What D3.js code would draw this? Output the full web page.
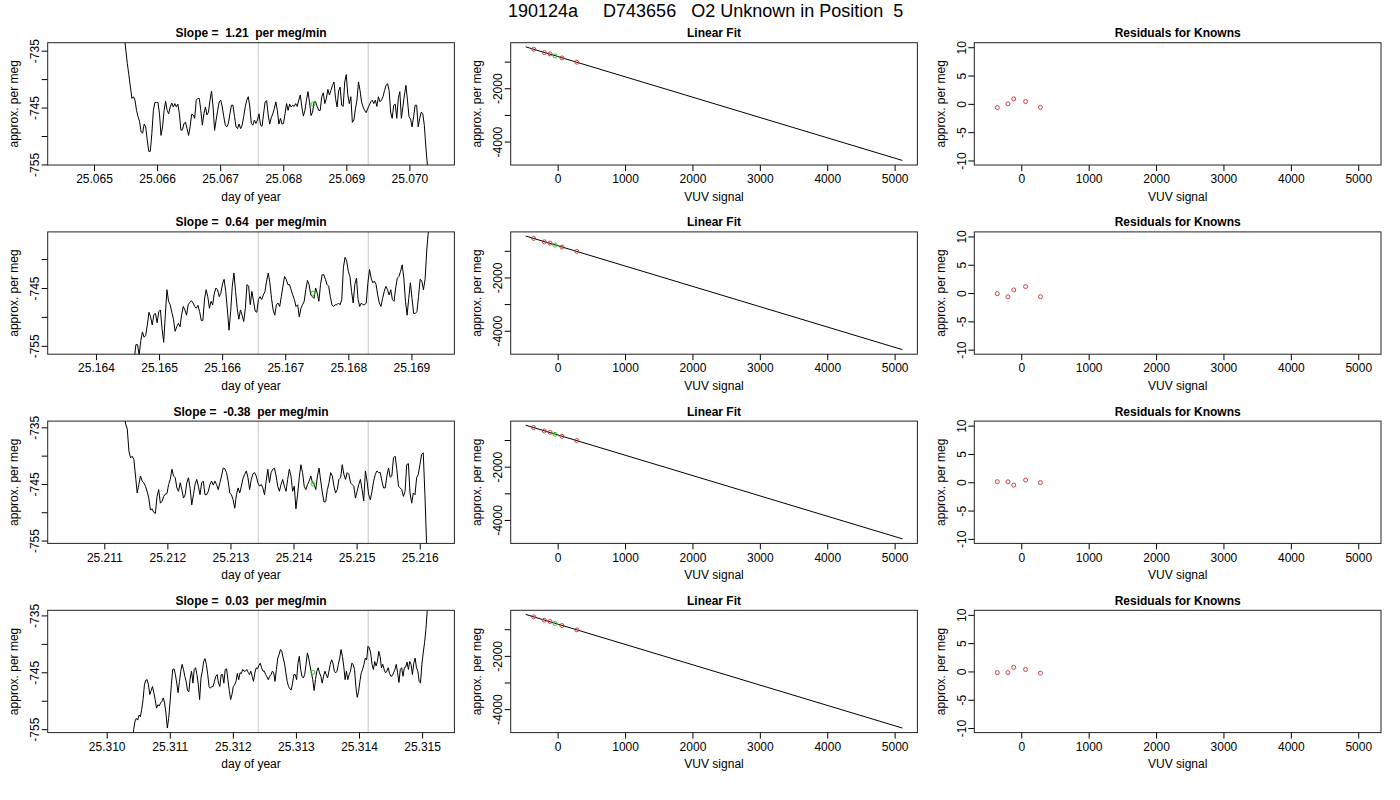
<!DOCTYPE html>
<html>
<head>
<meta charset="utf-8">
<script src="https://cdn.jsdelivr.net/npm/d3@7"></script>
<style>
  body { margin: 0; background: #fff; }
  svg { font-family: "Liberation Sans", Arial, Helvetica, sans-serif; }
</style>
</head>
<body>
<svg id="chart" width="1400" height="800"></svg>
<script>
// ---- data ----
const runTitle = "190124a     D743656   O2 Unknown in Position  5";
const slopes = ["1.21", "0.64", "-0.38", "0.03"];

// time window of each left panel (day of year)
const dayDomains = [
    [25.064266, 25.070713],
    [25.163235, 25.169681],
    [25.210103, 25.216550],
    [25.309065, 25.315512]
];
const dayTicks = [
    [25.065, 25.066, 25.067, 25.068, 25.069, 25.070],
    [25.164, 25.165, 25.166, 25.167, 25.168, 25.169],
    [25.211, 25.212, 25.213, 25.214, 25.215, 25.216],
    [25.310, 25.311, 25.312, 25.313, 25.314, 25.315]
];
// first and last sample of each trace
const traceStart = [25.065480, 25.164607, 25.211312, 25.310406];
const traceEnd = [25.070309, 25.169294, 25.216135, 25.315103];
// averaging window (grey lines)
const windowDays = [
    [25.067604, 25.069347],
    [25.166573, 25.168316],
    [25.213441, 25.215184],
    [25.312403, 25.314146]
];
const unknownDay = [25.068470, 25.167439, 25.214307, 25.313269];
const unknownPerMeg = [-744.4, -745.9, -745.0, -745.0];

const perMegDomains = [[-755.1, -733.6], [-756.45, -735.3], [-755.5, -733.9], [-755.6, -734.1]];
const perMegTicks = [
    [-755, -750, -745, -740, -735],
    [-755, -750, -745, -740],
    [-755, -750, -745, -740, -735],
    [-755, -750, -745, -740, -735]
];
const perMegLabels = [-755, -745, -735];

const trace1 = [-732.3, -734.9, -737.3, -739.3, -741.4, -743.4, -743.1, -743.7, -745.5, -746.6, -747.5, -749.3, -749.5, -747.9, -748.4, -750.7, -752.7, -752.7, -749.6, -745.5,
    -744.1, -744.1, -744.1, -746.1, -749.9, -748.4, -745.5, -743.9, -745.5, -746.1, -744.9, -744.2, -744.9, -744.3, -744.9, -744.4, -746.1, -749.0, -748.9, -747.8,
    -747.6, -748.7, -749.9, -748.4, -746.2, -746.3, -746.9, -743.7, -743.4, -743.4, -745.5, -748.1, -746.1, -744.9, -746.3, -745.8, -743.7, -742.1, -744.9, -749.0,
    -747.2, -745.5, -744.0, -743.7, -744.9, -746.6, -748.1, -748.4, -747.8, -746.1, -744.6, -744.6, -746.6, -748.4, -748.7, -747.9, -748.7, -748.1, -746.6, -744.9,
    -743.7, -743.1, -744.9, -747.8, -748.1, -747.2, -747.8, -747.2, -746.1, -748.1, -748.3, -746.1, -744.0, -743.8, -746.3, -747.9, -746.8, -746.1, -745.2, -744.0,
    -745.5, -747.9, -746.9, -747.9, -747.8, -746.1, -744.3, -745.5, -744.4, -744.9, -744.6, -744.8, -744.3, -744.8, -743.7, -742.8, -744.9, -746.5, -745.5, -743.7,
    -742.2, -744.0, -746.4, -745.8, -744.0, -744.0, -744.8, -745.5, -745.5, -743.1, -742.4, -744.3, -743.4, -741.8, -742.8, -742.0, -741.1, -740.5, -743.4, -744.9,
    -742.1, -741.4, -744.6, -744.8, -740.5, -739.2, -742.7, -744.3, -743.1, -747.6, -747.2, -745.2, -743.7, -740.5, -742.0, -744.0, -744.9, -745.5, -745.9, -745.2,
    -744.6, -744.0, -743.7, -744.3, -743.7, -744.8, -743.1, -744.0, -743.7, -743.1, -742.0, -741.1, -740.8, -742.0, -745.8, -746.9, -744.6, -744.4, -746.9, -743.4,
    -742.2, -746.9, -744.9, -742.8, -741.1, -743.7, -746.6, -747.0, -748.4, -746.6, -744.6, -744.6, -748.4, -746.9, -745.8, -746.1, -748.1, -751.9, -755.1, -759.0];

const trace2 = [-757.3, -754.8, -754.8, -756.6, -754.1, -752.6, -753.5, -753.2, -751.4, -749.2, -750.0, -751.4, -749.6, -749.4, -751.0, -749.1, -748.8, -752.0, -754.4, -749.7,
    -745.3, -747.3, -747.9, -749.2, -750.4, -752.5, -751.7, -751.1, -751.7, -749.6, -748.2, -748.8, -749.7, -747.9, -747.5, -747.2, -747.6, -748.2, -748.5, -748.0,
    -749.1, -750.6, -750.6, -746.9, -745.3, -746.5, -748.5, -747.3, -747.9, -745.9, -745.0, -745.3, -746.5, -745.9, -744.3, -743.5, -745.6, -748.8, -752.3, -749.1,
    -744.7, -742.4, -745.6, -748.5, -750.4, -748.8, -749.7, -750.8, -748.5, -744.4, -744.7, -747.9, -745.6, -747.3, -749.0, -749.2, -747.0, -746.5, -747.0, -746.2,
    -745.6, -743.8, -742.4, -744.1, -746.8, -748.8, -749.7, -747.9, -747.6, -748.2, -746.5, -744.7, -743.0, -743.5, -744.4, -744.4, -745.3, -746.2, -747.0, -748.2,
    -747.9, -750.0, -748.5, -747.9, -747.3, -745.3, -743.7, -744.4, -746.2, -746.5, -746.8, -745.0, -745.9, -747.3, -744.4, -742.7, -742.7, -743.5, -744.4, -744.7,
    -746.5, -747.9, -748.2, -747.9, -747.9, -747.6, -747.9, -747.0, -741.5, -739.7, -740.3, -742.1, -743.0, -745.6, -747.6, -744.4, -743.3, -747.0, -748.2, -747.6,
    -747.9, -747.9, -747.6, -744.1, -741.8, -743.3, -744.1, -743.8, -744.4, -746.2, -747.6, -748.2, -746.8, -745.6, -744.7, -745.3, -746.2, -745.3, -747.0, -747.3,
    -745.0, -743.3, -743.0, -742.1, -741.0, -743.3, -747.3, -749.7, -746.8, -744.1, -746.8, -749.4, -749.4, -749.1, -746.5, -743.5, -743.8, -745.3, -743.5, -738.6,
    -735.2, -732.7];

const trace3 = [-732.1, -734.4, -735.3, -739.2, -740.4, -740.1, -740.7, -743.6, -746.6, -745.1, -743.6, -744.5, -744.8, -745.4, -746.3, -747.5, -749.6, -749.4, -750.0, -750.2,
    -747.2, -746.0, -748.4, -748.1, -747.2, -746.8, -746.7, -745.1, -744.2, -742.4, -743.6, -743.9, -745.7, -746.3, -744.8, -746.0, -747.5, -746.9, -744.8, -743.9,
    -745.8, -748.7, -746.9, -745.1, -744.2, -745.4, -746.9, -744.8, -744.5, -746.9, -746.9, -746.3, -745.1, -744.5, -745.2, -744.5, -745.1, -746.0, -744.8, -743.6,
    -742.2, -742.3, -743.0, -744.5, -746.6, -746.9, -747.8, -749.3, -746.9, -745.7, -746.6, -745.4, -744.0, -743.3, -742.7, -743.9, -746.0, -744.2, -743.2, -743.0,
    -743.6, -744.8, -745.4, -745.1, -745.7, -746.9, -744.5, -742.4, -744.8, -743.0, -742.4, -742.2, -743.6, -745.4, -746.3, -745.1, -744.2, -745.4, -746.3, -744.2,
    -742.4, -743.6, -746.3, -745.4, -749.4, -746.9, -743.9, -741.6, -743.0, -745.4, -746.0, -745.1, -744.5, -743.6, -744.8, -745.1, -746.0, -743.6, -742.2, -744.5,
    -746.6, -748.2, -748.1, -746.0, -744.8, -743.0, -743.6, -745.4, -746.6, -746.0, -744.2, -743.9, -741.6, -743.3, -744.2, -743.0, -743.3, -744.8, -745.1, -745.4,
    -747.5, -746.3, -745.1, -744.2, -746.0, -748.0, -742.7, -744.5, -746.9, -747.8, -746.3, -744.5, -743.3, -742.7, -743.0, -743.0, -744.5, -745.7, -745.7, -743.6,
    -742.2, -743.8, -743.6, -740.4, -740.1, -742.4, -745.4, -745.7, -746.0, -747.2, -746.3, -741.6, -741.4, -746.6, -748.4, -746.6, -746.9, -743.9, -743.3, -741.6,
    -739.8, -739.5, -746.9, -755.5, -761.1];

const trace4 = [-757.5, -755.1, -753.6, -753.1, -753.4, -752.5, -752.8, -751.5, -749.8, -747.2, -746.4, -746.3, -747.2, -748.9, -748.2, -747.5, -748.6, -749.8, -751.3, -750.7,
    -750.9, -750.4, -750.1, -749.5, -750.4, -752.2, -754.8, -753.1, -750.4, -747.2, -744.5, -744.4, -745.4, -746.9, -748.6, -746.6, -744.8, -743.6, -744.5, -745.7,
    -746.6, -748.2, -748.4, -746.0, -744.8, -746.9, -744.5, -744.2, -745.4, -747.2, -749.8, -746.0, -744.8, -743.1, -742.6, -743.6, -745.4, -747.5, -747.8, -747.5,
    -747.5, -746.6, -745.7, -745.4, -746.9, -747.5, -745.4, -745.4, -746.9, -744.5, -744.4, -746.3, -748.2, -749.8, -748.9, -747.5, -747.2, -746.6, -745.2, -746.3,
    -745.1, -745.2, -744.5, -744.8, -744.8, -744.5, -745.0, -745.4, -744.8, -745.7, -746.6, -745.1, -744.2, -744.4, -743.8, -743.4, -744.2, -744.8, -744.8, -745.4,
    -745.8, -746.3, -745.7, -745.4, -744.8, -745.1, -746.6, -744.5, -742.5, -741.9, -741.0, -741.3, -742.5, -743.4, -745.1, -746.6, -747.5, -747.9, -748.1, -746.9,
    -745.4, -745.4, -746.3, -743.4, -742.2, -744.5, -745.7, -746.0, -745.4, -743.6, -741.6, -742.5, -743.9, -745.1, -746.3, -748.2, -746.3, -744.8, -744.2, -745.1,
    -745.7, -746.9, -745.7, -744.8, -745.4, -746.0, -744.8, -743.6, -742.8, -743.4, -744.8, -745.1, -744.8, -743.6, -742.5, -741.0, -742.2, -743.9, -746.3, -744.8,
    -746.3, -745.4, -744.8, -743.4, -743.6, -744.5, -747.5, -749.4, -748.4, -746.6, -745.1, -744.5, -743.6, -742.5, -742.8, -740.4, -740.7, -741.6, -743.6, -744.5,
    -743.1, -743.9, -743.1, -741.3, -742.2, -744.2, -743.6, -744.5, -745.1, -744.8, -744.2, -745.2, -745.7, -745.6, -745.1, -744.5, -743.6, -745.1, -746.8, -744.5,
    -744.2, -745.7, -744.2, -744.1, -743.2, -744.5, -743.1, -743.6, -745.4, -743.4, -742.5, -744.2, -744.8, -746.6, -746.9, -743.6, -741.6, -739.8, -737.5, -734.1,
    -731.6];

const traces = [trace1, trace2, trace3, trace4];

// linear fit panel
const knownSignal = [-356, -198, -112, 64, 284];
const knownPerMeg = [-535, -662, -711, -861, -1022];
const unknownSignal = -40;
const unknownFitPerMeg = -786;
const fitSignal = [-474, 5115];
const fitPerMeg = [-445, -4709];
const signalDomain = [-697, 5338];
const signalTicks = [0, 1000, 2000, 3000, 4000, 5000];
const fitDomain = [-4880, -290];
const fitTicks = [-4000, -3000, -2000, -1000];
const fitLabels = [-4000, -2000];

// residuals for knowns, one row per cycle
const residuals = [
    [-0.65, 0.0, 0.88, 0.41, -0.6],
    [-0.1, -0.65, 0.55, 1.15, -0.65],
    [0.1, 0.08, -0.5, 0.38, -0.06],
    [-0.2, -0.2, 0.72, 0.35, -0.3]
];
const residDomain = [-10.8, 10.8];
const residTicks = [-10, -5, 0, 5, 10];

// ---- layout ----
const svg = d3.select("#chart");
const colLeft = [47.7, 510.7, 974.3];
const panelW = 406.7;
const panelH = 122.3;
const rowTop = 42.7;
const rowStep = 189.2;
const red = "#c8403f";
const green = "#22cc22";

svg.append("text")
    .attr("x", 508).attr("y", 16.7)
    .attr("font-size", 18)
    .style("white-space", "pre")
    .text(runTitle);

let clipId = 0;

function drawPanel(left, top, x, y, cfg) {
    let g = svg.append("g").attr("transform", `translate(${left},${top})`);

    let id = "clip" + (clipId++);
    g.append("clipPath").attr("id", id)
        .append("rect").attr("width", panelW).attr("height", panelH);

    // x axis
    let xa = g.append("g").attr("transform", `translate(0,${panelH})`)
        .call(d3.axisBottom(x).tickValues(cfg.xTicks).tickSize(6).tickFormat(cfg.xFormat));
    xa.select(".domain").remove();
    xa.attr("font-size", 12).attr("font-family", null);
    xa.selectAll("text").attr("y", 18.3).attr("dy", 0).attr("fill", "#000");
    xa.selectAll("line").attr("stroke", "#000");

    // y axis, labels turned like R's las=0
    let ya = g.append("g")
        .call(d3.axisLeft(y).tickValues(cfg.yTicks).tickSize(6)
            .tickFormat(d => cfg.yLabels.includes(d) ? String(d) : ""));
    ya.select(".domain").remove();
    ya.attr("font-size", 12).attr("font-family", null);
    ya.selectAll("text")
        .attr("transform", "rotate(-90)")
        .attr("x", 0).attr("y", -8.5).attr("dy", 0)
        .attr("text-anchor", "middle").attr("fill", "#000");
    ya.selectAll("line").attr("stroke", "#000");

    g.append("text")
        .attr("x", panelW / 2).attr("y", -5.5)
        .attr("text-anchor", "middle")
        .attr("font-size", 12).attr("font-weight", "bold")
        .style("white-space", "pre")
        .text(cfg.title);
    g.append("text")
        .attr("x", panelW / 2).attr("y", panelH + 35.7)
        .attr("text-anchor", "middle").attr("font-size", 12)
        .text(cfg.xTitle);
    g.append("text")
        .attr("transform", `translate(-29.7,${panelH / 2}) rotate(-90)`)
        .attr("text-anchor", "middle").attr("font-size", 12)
        .text("approx. per meg");

    let plot = g.append("g").attr("clip-path", `url(#${id})`);

    g.append("rect")
        .attr("width", panelW).attr("height", panelH)
        .attr("fill", "none").attr("stroke", "#222").attr("stroke-width", 1);
    return plot;
}

for (let r = 0; r < 4; r++) {
    let top = rowTop + r * rowStep;

    // left: per meg trace against day of year
    let x1 = d3.scaleLinear().domain(dayDomains[r]).range([0, panelW]);
    let y1 = d3.scaleLinear().domain(perMegDomains[r]).range([panelH, 0]);
    let p1 = drawPanel(colLeft[0], top, x1, y1, {
        xTicks: dayTicks[r], xFormat: d => d.toFixed(3),
        yTicks: perMegTicks[r], yLabels: perMegLabels,
        title: "Slope =  " + slopes[r] + "  per meg/min",
        xTitle: "day of year"
    });
    p1.selectAll("line.win").data(windowDays[r]).join("line")
        .attr("class", "win")
        .attr("x1", d => x1(d)).attr("x2", d => x1(d))
        .attr("y1", 0).attr("y2", panelH)
        .attr("stroke", "#d0d0d0").attr("stroke-width", 1.2);
    let trace = traces[r];
    let idxToDay = d3.scaleLinear().domain([0, trace.length - 1]).range([traceStart[r], traceEnd[r]]);
    p1.append("path").datum(trace)
        .attr("fill", "none").attr("stroke", "#000").attr("stroke-width", 1)
        .attr("stroke-linejoin", "round")
        .attr("d", d3.line().x((d, i) => x1(idxToDay(i))).y(d => y1(d)));
    p1.append("circle")
        .attr("cx", x1(unknownDay[r])).attr("cy", y1(unknownPerMeg[r])).attr("r", 2)
        .attr("fill", "none").attr("stroke", green).attr("stroke-width", 1);

    // middle: linear fit
    let x2 = d3.scaleLinear().domain(signalDomain).range([0, panelW]);
    let y2 = d3.scaleLinear().domain(fitDomain).range([panelH, 0]);
    let p2 = drawPanel(colLeft[1], top, x2, y2, {
        xTicks: signalTicks, xFormat: d => String(d),
        yTicks: fitTicks, yLabels: fitLabels,
        title: "Linear Fit", xTitle: "VUV signal"
    });
    p2.append("line")
        .attr("x1", x2(fitSignal[0])).attr("y1", y2(fitPerMeg[0]))
        .attr("x2", x2(fitSignal[1])).attr("y2", y2(fitPerMeg[1]))
        .attr("stroke", "#000").attr("stroke-width", 1);
    p2.selectAll("circle.known").data(knownSignal).join("circle")
        .attr("class", "known")
        .attr("cx", d => x2(d)).attr("cy", (d, i) => y2(knownPerMeg[i])).attr("r", 2)
        .attr("fill", "none").attr("stroke", red).attr("stroke-width", 1);
    p2.append("circle")
        .attr("cx", x2(unknownSignal)).attr("cy", y2(unknownFitPerMeg)).attr("r", 2)
        .attr("fill", "none").attr("stroke", green).attr("stroke-width", 1);

    // right: residuals
    let y3 = d3.scaleLinear().domain(residDomain).range([panelH, 0]);
    let p3 = drawPanel(colLeft[2], top, x2, y3, {
        xTicks: signalTicks, xFormat: d => String(d),
        yTicks: residTicks, yLabels: residTicks,
        title: "Residuals for Knowns", xTitle: "VUV signal"
    });
    p3.selectAll("circle.res").data(residuals[r]).join("circle")
        .attr("class", "res")
        .attr("cx", (d, i) => x2(knownSignal[i])).attr("cy", d => y3(d)).attr("r", 2)
        .attr("fill", "none").attr("stroke", red).attr("stroke-width", 1);
}
</script>
</body>
</html>
